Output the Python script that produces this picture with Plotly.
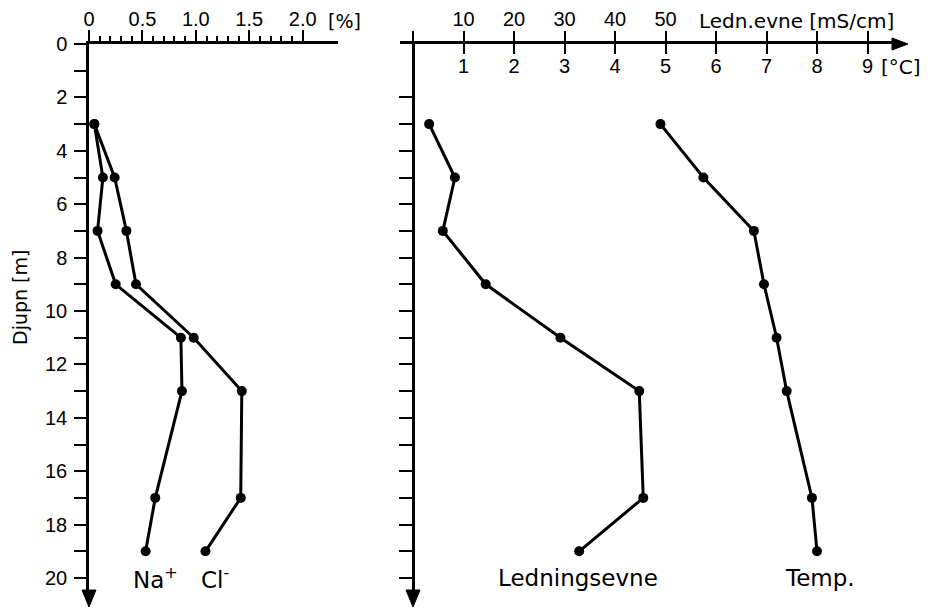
import plotly.graph_objects as go

# Borehole profile: depth (m) with salt content, conductivity and temperature
depth = [3, 5, 7, 9, 11, 13, 17, 19]
na_pct = [0.05, 0.13, 0.08, 0.25, 0.86, 0.87, 0.62, 0.53]
cl_pct = [0.05, 0.24, 0.35, 0.44, 0.98, 1.43, 1.42, 1.09]
ledn_mscm = [3.2, 8.3, 5.9, 14.4, 29.2, 44.8, 45.6, 32.9]
temp_c = [4.9, 5.75, 6.75, 6.95, 7.2, 7.4, 7.9, 8.0]

pct_ticks = [0, 0.5, 1.0, 1.5, 2.0]
pct_labels = ["0", "0.5", "1.0", "1.5", "2.0"]
ledn_ticks = [10, 20, 30, 40, 50]
ledn_unlabelled = [0, 60, 70, 80, 90]
temp_ticks = [1, 2, 3, 4, 5, 6, 7, 8, 9]
depth_ticks = list(range(0, 21, 2))

W, H = 949, 611
FONT = "Liberation Sans, Arial, Helvetica, sans-serif"
WIDE = "DejaVu Sans, Verdana, sans-serif"
BLACK = "black"


def px(x):
    return x / W


def py(y):
    return 1 - y / H


# pixel layout of the two panels
Y_TOP, Y_BOT = 44, 594
PX_PER_M = 26.7
L_X0, L_X1, L_PER_PCT = 89, 338, 106.85
R_AX, R_X0, R_X1, R_PER_C = 413, 400, 895, 50.5

line_style = dict(color=BLACK, width=3)
marker_style = dict(color=BLACK, size=10)

fig = go.Figure()
for vals in (na_pct, cl_pct):
    fig.add_trace(go.Scatter(x=vals, y=depth, mode="lines+markers",
                             line=line_style, marker=marker_style,
                             xaxis="x", yaxis="y", showlegend=False))
fig.add_trace(go.Scatter(x=ledn_mscm, y=depth, mode="lines+markers",
                         line=line_style, marker=marker_style,
                         xaxis="x2", yaxis="y2", showlegend=False))
fig.add_trace(go.Scatter(x=temp_c, y=depth, mode="lines+markers",
                         line=line_style, marker=marker_style,
                         xaxis="x3", yaxis="y2", showlegend=False))

tickfont = dict(family=FONT, size=20, color=BLACK)
axis_common = dict(showgrid=False, zeroline=False, showline=True,
                   linecolor=BLACK, linewidth=2.5, tickcolor=BLACK,
                   tickwidth=2, tickfont=tickfont, automargin=False)

y_span = (Y_BOT - Y_TOP) / PX_PER_M
y_dom = [py(Y_BOT), py(Y_TOP)]

fig.update_layout(
    width=W, height=H,
    margin=dict(l=0, r=0, t=0, b=0, autoexpand=False),
    paper_bgcolor="white", plot_bgcolor="white",
    font=dict(family=FONT, color=BLACK),
    xaxis=dict(domain=[px(L_X0), px(L_X1)],
               range=[0, (L_X1 - L_X0) / L_PER_PCT],
               side="top", anchor="y", ticks="outside", ticklen=11,
               tickvals=pct_ticks, ticktext=pct_labels,
               ticklabelstandoff=-4,
               minor=dict(tickvals=[round(i * 0.1, 1) for i in range(1, 21)],
                          ticks="outside", ticklen=5, tickwidth=1.5,
                          tickcolor=BLACK),
               **axis_common),
    yaxis=dict(domain=y_dom, range=[y_span, 0], anchor="x",
               ticks="outside", ticklen=12, tickvals=depth_ticks,
               minor=dict(tickvals=list(range(1, 20, 2)), ticks="outside",
                          ticklen=12, tickwidth=2, tickcolor=BLACK),
               ticklabelstandoff=3,
               **axis_common),
    xaxis2=dict(domain=[px(R_X0), px(R_X1)],
                range=[-(R_AX - R_X0) / R_PER_C * 10,
                       (R_X1 - R_AX) / R_PER_C * 10],
                side="top", anchor="y2", ticks="outside", ticklen=10,
                tickvals=ledn_ticks, ticklabelstandoff=-3,
                minor=dict(tickvals=ledn_unlabelled, ticks="outside",
                           ticklen=10, tickwidth=2, tickcolor=BLACK),
                **axis_common),
    xaxis3=dict(range=[-(R_AX - R_X0) / R_PER_C, (R_X1 - R_AX) / R_PER_C],
                side="top", anchor="y2", overlaying="x2",
                ticks="inside", ticklen=10, ticklabelposition="inside",
                ticklabelstandoff=6, tickvals=temp_ticks,
                **{**axis_common, "showline": False}),
    yaxis2=dict(domain=y_dom, range=[y_span, 0], anchor="free",
                position=px(R_AX), ticks="outside", ticklen=13,
                tickvals=list(range(1, 21)), showticklabels=False,
                **axis_common),
)

# arrowheads at the ends of the axes
def tri(points):
    return "M " + " L ".join(f"{px(x)},{py(y)}" for x, y in points) + " Z"


for ax_x in (L_X0, R_AX):
    fig.add_shape(type="path", xref="paper", yref="paper",
                  path=tri([(ax_x - 7, 590), (ax_x + 7, 590), (ax_x, 607)]),
                  fillcolor=BLACK, line=dict(color=BLACK, width=1))
fig.add_shape(type="path", xref="paper", yref="paper",
              path=tri([(892, Y_TOP - 6), (892, Y_TOP + 6), (908, Y_TOP)]),
              fillcolor=BLACK, line=dict(color=BLACK, width=1))


def paper_text(text, x, y, size, xanchor="left", angle=0):
    fig.add_annotation(text=text, x=px(x), y=py(y), xref="paper",
                       yref="paper", xanchor=xanchor, yanchor="middle",
                       textangle=angle, showarrow=False,
                       font=dict(family=WIDE, size=size, color=BLACK))


paper_text("Djupn [m]", 20, 298, 19, xanchor="center", angle=-90)
paper_text("[%]", 326, 21, 19)
paper_text("Ledn.evne [mS/cm]", 697, 21, 20)
paper_text("[°C]", 879, 67, 20)

label_font = dict(family=WIDE, size=23, color=BLACK)
fig.add_annotation(text="Na<sup>+</sup>", x=na_pct[-1], y=20, xref="x",
                   yref="y", xanchor="center", yanchor="middle",
                   showarrow=False, font=label_font, xshift=10)
fig.add_annotation(text="Cl<sup>-</sup>", x=cl_pct[-1], y=20, xref="x",
                   yref="y", xanchor="center", yanchor="middle",
                   showarrow=False, font=label_font, xshift=10)
fig.add_annotation(text="Ledningsevne", x=ledn_mscm[-1], y=20, xref="x2",
                   yref="y2", xanchor="center", yanchor="middle",
                   showarrow=False, font=label_font, xshift=-1)
fig.add_annotation(text="Temp.", x=temp_c[-1], y=20, xref="x3",
                   yref="y2", xanchor="center", yanchor="middle",
                   showarrow=False, font=label_font, xshift=3)

fig.write_html("out.html")
